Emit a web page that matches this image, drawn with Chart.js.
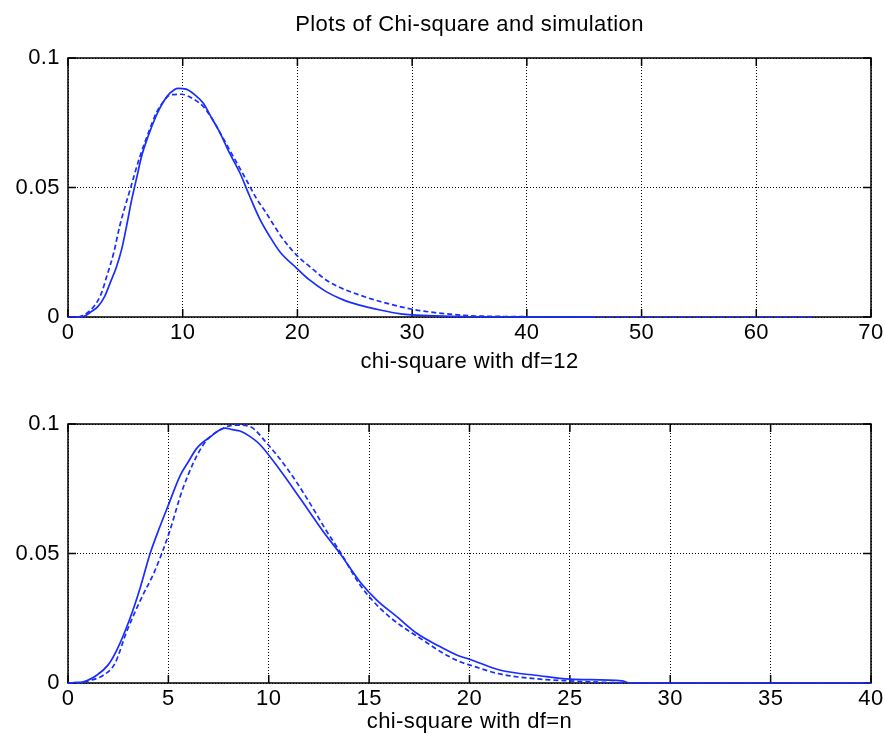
<!DOCTYPE html>
<html><head><meta charset="utf-8">
<script src="https://cdn.jsdelivr.net/npm/chart.js@4.4.1/dist/chart.umd.min.js"></script>
<style>
html,body{margin:0;padding:0;background:#fff;width:885px;height:742px;overflow:hidden}
canvas{display:block;position:absolute;left:0}
#c1{top:0}
#c2{top:385px}
</style></head><body>
<canvas id="c1" width="885" height="385"></canvas>
<canvas id="c2" width="885" height="357"></canvas>
<script>
const titleText = 'Plots of Chi-square and simulation';
const topXLabel = 'chi-square with df=12';
const bottomXLabel = 'chi-square with df=n';
const yTickValues = [0, 0.05, 0.1];
const yTickLabels = ['0', '0.05', '0.1'];
const topXTicks = [0, 10, 20, 30, 40, 50, 60, 70];
const bottomXTicks = [0, 5, 10, 15, 20, 25, 30, 35, 40];

// Top panel: simulation (solid) and chi-square df=12 (dashed)
const topSolidX = [0, 1, 1.5, 2, 2.6, 3.2, 3.66, 4.2, 4.67, 5.1, 5.54, 6, 6.41, 7, 7.72, 8.3, 8.88, 9.6, 10.3, 11, 11.8, 12.5, 13.2, 14, 15, 15.8, 16.7, 17.6, 18.5, 19.9, 21, 22.5, 24, 25.4, 27.2, 29, 30, 32, 35, 40, 46];
const topSolidY = [0, 0, 0.0005, 0.002, 0.004, 0.008, 0.013, 0.019, 0.026, 0.035, 0.045, 0.054, 0.062, 0.070, 0.078, 0.083, 0.0864, 0.0883, 0.088, 0.086, 0.0825, 0.077, 0.0716, 0.064, 0.0555, 0.047, 0.038, 0.031, 0.025, 0.019, 0.0145, 0.0098, 0.0066, 0.0046, 0.0027, 0.0012, 0.0008, 0.0004, 0.0001, 0, 0];
const topDashX = [0.9, 1.5, 2.35, 2.9, 3.37, 4, 4.5, 5.4, 6.27, 7, 7.72, 8.3, 8.88, 9.9, 10.8, 11.8, 12.5, 13.2, 14.4, 15.55, 16.4, 17.3, 18.6, 19.9, 21.2, 22.5, 23.5, 25.4, 27.2, 30, 32, 35, 38, 40, 45, 50, 55, 60, 65];
const topDashY = [0, 0.001, 0.0046, 0.009, 0.0156, 0.025, 0.035, 0.049, 0.062, 0.071, 0.079, 0.083, 0.0857, 0.086, 0.0845, 0.0812, 0.077, 0.0716, 0.062, 0.0529, 0.046, 0.040, 0.031, 0.024, 0.019, 0.0143, 0.0118, 0.0085, 0.006, 0.003, 0.0017, 0.0005, 0.0002, 0.0001, 0, 0, 0, 0, 0];

// Bottom panel
const botSolidX = [0, 0.3, 0.76, 1.43, 2, 2.43, 3.09, 3.59, 4.09, 4.58, 5, 5.58, 6, 6.41, 7.08, 7.82, 8.2, 8.57, 9, 9.57, 10.56, 11.56, 12.72, 13.55, 14.55, 15.38, 16.38, 17.37, 18.37, 19.45, 20.03, 21.5, 23.5, 25, 27.6, 28, 30, 35, 40];
const botSolidY = [0, 0.0002, 0.0005, 0.003, 0.007, 0.0127, 0.025, 0.0366, 0.050, 0.0604, 0.0687, 0.080, 0.0855, 0.0906, 0.095, 0.0984, 0.0978, 0.0973, 0.0955, 0.092, 0.0822, 0.0713, 0.0584, 0.050, 0.039, 0.032, 0.0256, 0.0192, 0.0147, 0.0105, 0.0091, 0.005, 0.0028, 0.0015, 0.0008, 0, 0, 0, 0];
const botDashX = [0, 0.5, 1, 1.76, 2.34, 2.92, 3.67, 4.25, 4.72, 5.08, 5.74, 6.74, 7.74, 8.4, 9.07, 9.9, 10.9, 11.9, 12.9, 13.55, 14.55, 15.55, 16.54, 17.54, 18.54, 19.53, 20.03, 21.5, 23.5, 25, 27.6];
const botDashY = [0, 0, 0.0008, 0.003, 0.0076, 0.0198, 0.033, 0.042, 0.051, 0.059, 0.0755, 0.092, 0.0984, 0.0996, 0.099, 0.0926, 0.083, 0.0713, 0.0584, 0.0507, 0.0378, 0.0288, 0.0224, 0.0173, 0.0122, 0.0082, 0.0069, 0.0035, 0.0015, 0.0008, 0];

const LINE = 'rgb(25,45,255)';
const FONT = { family: '"Liberation Sans", Arial, sans-serif', size: 22 };
const SPACING = '0.4px';
Chart.defaults.color = '#000';

function pts(xs, ys) { return xs.map((x, i) => ({ x: x, y: ys[i] })); }

const framePlugin = {
  id: 'frame',
  beforeUpdate(chart) { chart.ctx.letterSpacing = SPACING; },
  beforeDraw(chart) { chart.ctx.letterSpacing = SPACING; },
  beforeDatasetsDraw(chart) {
    const ctx = chart.ctx, a = chart.chartArea, xs = chart.scales.x, ys = chart.scales.y;
    ctx.save();
    ctx.setLineDash([]);
    ctx.strokeStyle = '#000';
    ctx.lineWidth = 1.5;
    ctx.strokeRect(a.left, a.top, a.right - a.left, a.bottom - a.top);
    ctx.beginPath();
    xs.ticks.forEach(t => {
      const p = xs.getPixelForValue(t.value);
      ctx.moveTo(p, a.bottom); ctx.lineTo(p, a.bottom - 8);
      ctx.moveTo(p, a.top); ctx.lineTo(p, a.top + 8);
    });
    ys.ticks.forEach(t => {
      const p = ys.getPixelForValue(t.value);
      ctx.moveTo(a.left, p); ctx.lineTo(a.left + 8, p);
      ctx.moveTo(a.right, p); ctx.lineTo(a.right - 8, p);
    });
    ctx.stroke();
    ctx.restore();
  }
};

function makeChart(id, solid, dashed, xTicks, xLabel, xHeight, titlePadBottom, padTop, withTitle) {
  return new Chart(document.getElementById(id), {
    type: 'scatter',
    data: {
      datasets: [
        { data: solid, showLine: true, borderColor: LINE, borderWidth: 1.7, pointRadius: 0, cubicInterpolationMode: 'monotone', clip: false },
        { data: dashed, showLine: true, borderColor: LINE, borderWidth: 1.7, borderDash: [5, 3], pointRadius: 0, cubicInterpolationMode: 'monotone', clip: false }
      ]
    },
    options: {
      responsive: false,
      animation: false,
      layout: { padding: { left: 0, right: 14, top: padTop, bottom: 0 } },
      plugins: {
        legend: { display: false },
        tooltip: { enabled: false },
        title: {
          display: withTitle, text: titleText, fullSize: false, color: '#000',
          font: Object.assign({ weight: 'normal' }, FONT, { lineHeight: 24 / 22 }),
          padding: { top: 13, bottom: 21 }
        }
      },
      scales: {
        x: {
          type: 'linear', min: xTicks[0], max: xTicks[xTicks.length - 1],
          afterBuildTicks: s => { s.ticks = xTicks.map(v => ({ value: v })); },
          afterFit: s => { s.height = xHeight; s.paddingLeft = 0; s.paddingRight = 0; },
          grid: { color: '#000', lineWidth: 1, drawTicks: false },
          border: { display: false, dash: [1, 2] },
          ticks: { padding: 3, font: FONT, color: '#000', maxRotation: 0, autoSkip: false, callback: v => String(v) },
          title: { display: true, text: xLabel, font: Object.assign({}, FONT, { lineHeight: 24 / 22 }), color: '#000', padding: { top: 0, bottom: titlePadBottom } }
        },
        y: {
          min: 0, max: 0.1,
          afterBuildTicks: s => { s.ticks = yTickValues.map(v => ({ value: v })); },
          afterFit: s => { s.width = 68; s.paddingTop = 0; s.paddingBottom = 0; },
          grid: { color: '#000', lineWidth: 1, drawTicks: false },
          border: { display: false, dash: [1, 2] },
          ticks: { padding: 8, font: FONT, color: '#000', autoSkip: false, callback: (v, i) => yTickLabels[i] }
        }
      }
    },
    plugins: [framePlugin]
  });
}

makeChart('c1', pts(topSolidX, topSolidY), pts(topDashX, topDashY), topXTicks, topXLabel, 68, 11, 0, true);
makeChart('c2', pts(botSolidX, botSolidY), pts(botDashX, botDashY), bottomXTicks, bottomXLabel, 59, 8, 39, false);
</script>
</body></html>
